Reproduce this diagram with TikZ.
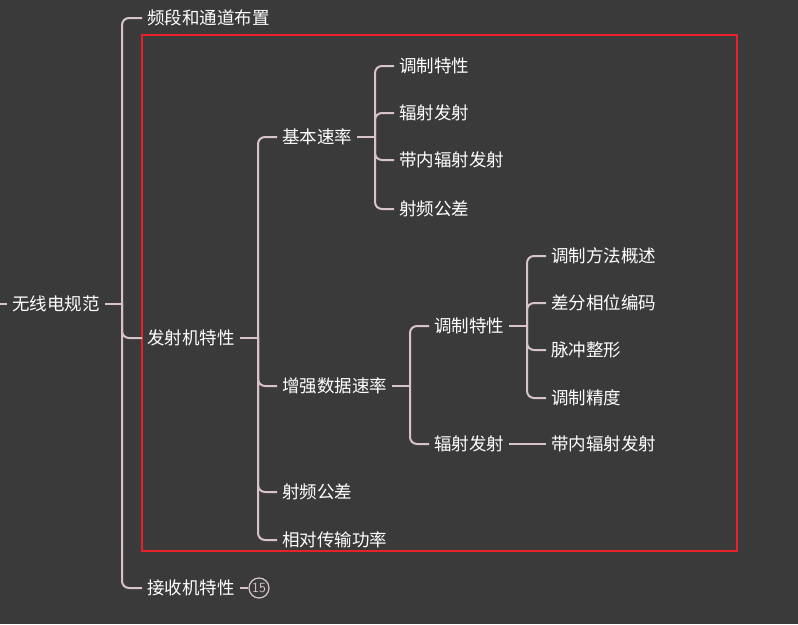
\documentclass[tikz,border=0pt]{standalone}
\usepackage{fontspec}
\newfontfamily\cjk{Noto Sans CJK SC}
\definecolor{bg}{HTML}{3A3A3A}
\definecolor{ln}{HTML}{D8C4C8}
\definecolor{rd}{HTML}{E8202A}
\begin{document}
\begin{tikzpicture}[x=1pt,y=-1pt,
  t/.style={anchor=west, inner xsep=5pt, inner ysep=2pt, text=white, font=\cjk\fontsize{17.5}{19}\selectfont},
  c/.style={draw=ln, line width=2pt, rounded corners=7pt},
  num/.style={circle, draw=ln, line width=1.2pt, minimum size=20pt, inner sep=0pt, text=ln, font=\sffamily\fontsize{14}{15}\selectfont}]
\fill[bg] (0,0) rectangle (798,624);
\useasboundingbox (0,0) rectangle (798,624);
\draw[rd, line width=1.5pt] (142,35) rectangle (737,551);

\node[t] (root) at (7,304) {无线电规范};
\node[t] (a1) at (142,18) {频段和通道布置};
\node[t] (a2) at (142,338) {发射机特性};
\node[t] (a3) at (142,588) {接收机特性};
\node[num] (n15) at (259,588) {15};

\node[t] (b1) at (277,137) {基本速率};
\node[t] (b2) at (277,386) {增强数据速率};
\node[t] (b3) at (277,492) {射频公差};
\node[t] (b4) at (277,540) {相对传输功率};

\node[t] (c1) at (394,66) {调制特性};
\node[t] (c2) at (394,113) {辐射发射};
\node[t] (c3) at (394,160) {带内辐射发射};
\node[t] (c4) at (394,209) {射频公差};

\node[t] (d1) at (429,326) {调制特性};
\node[t] (d2) at (429,444) {辐射发射};

\node[t] (e1) at (546,256) {调制方法概述};
\node[t] (e2) at (546,303) {差分相位编码};
\node[t] (e3) at (546,350) {脉冲整形};
\node[t] (e4) at (546,398) {调制精度};
\node[t] (e5) at (546,444) {带内辐射发射};

\coordinate (s0) at (0,304);
\coordinate (j0) at (122,304);
\coordinate (j1) at (258,338);
\coordinate (j2) at (375,137);
\coordinate (j3) at (410,386);
\coordinate (j4) at (527,326);

\draw[c] (s0) -- (root.west);
\draw[c] (root.east) -- (j0);
\foreach \n in {a1,a2,a3} \draw[c] (j0) |- (\n.west);
\draw[c] (a3.east) -- (n15.west);

\draw[c] (a2.east) -- (j1);
\foreach \n in {b1,b2,b3,b4} \draw[c] (j1) |- (\n.west);

\draw[c] (b1.east) -- (j2);
\foreach \n in {c1,c2,c3,c4} \draw[c] (j2) |- (\n.west);

\draw[c] (b2.east) -- (j3);
\foreach \n in {d1,d2} \draw[c] (j3) |- (\n.west);

\draw[c] (d1.east) -- (j4);
\foreach \n in {e1,e2,e3,e4} \draw[c] (j4) |- (\n.west);

\draw[c] (d2.east) -- (e5.west);
\end{tikzpicture}
\end{document}
